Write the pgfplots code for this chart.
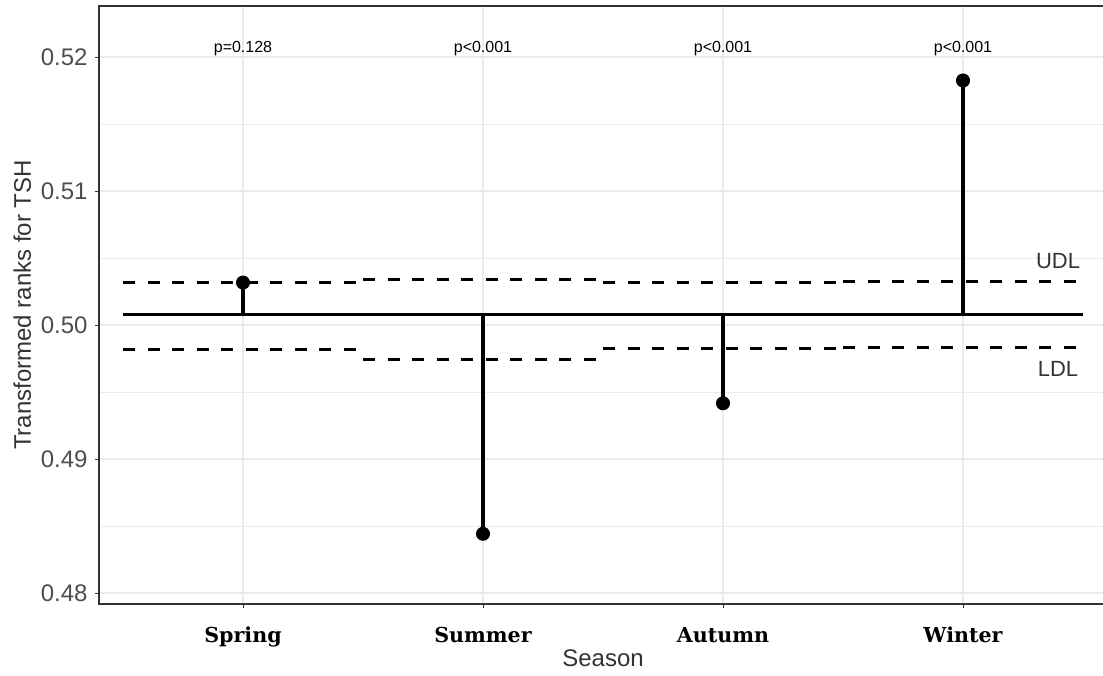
\documentclass[border=0pt]{standalone}
\usepackage{pgfplots}
\pgfplotsset{compat=1.18}
\usepackage{fontspec}
\setmainfont{Liberation Sans}
\newfontfamily\catfont{DejaVu Serif}
\definecolor{gridc}{HTML}{EBEBEB}
\definecolor{axc}{HTML}{333333}
\definecolor{tickc}{HTML}{4D4D4D}
\begin{document}
\begin{tikzpicture}
\useasboundingbox (-49.5pt,-35.5pt) rectangle (502pt,302pt);
\begin{axis}[
 at={(0,0)}, anchor=south west, scale only axis,
 width=504pt, height=299pt,
 xmin=-0.6, xmax=3.6, ymin=0.47918, ymax=0.52381,
 xtick={0,1,2,3}, xticklabels={Spring,Summer,Autumn,Winter},
 ytick={0.48,0.49,0.50,0.51,0.52},
 yticklabels={0.48,0.49,0.50,0.51,0.52},
 minor ytick={0.485,0.495,0.505,0.515},
 grid=both,
 major grid style={gridc, line width=0.6pt},
 minor grid style={gridc, line width=0.4pt},
 axis line style={axc, line width=0.6pt},
 tick align=outside, tick pos=left,
 major tick length=2.2pt, minor tick length=0pt,
 tick style={axc, line width=0.5pt},
 yticklabel style={font=\fontsize{12}{12}\selectfont, text=tickc},
 xticklabel style={font=\catfont\bfseries\fontsize{10.3}{10.3}\selectfont, text=black, text height=7.8pt, text depth=2.5pt, yshift=-5.5pt},
]
% center line
\addplot[black, line width=1.5pt] coordinates {(-0.5,0.50078) (3.5,0.50078)};
% UDL
\addplot[black, line width=1.4pt, dash pattern=on 6pt off 6.25pt] coordinates {(-0.5,0.50315) (0.5,0.50315)};
\addplot[black, line width=1.4pt, dash pattern=on 6pt off 6.25pt] coordinates {(0.5,0.50340) (1.5,0.50340)};
\addplot[black, line width=1.4pt, dash pattern=on 6pt off 6.25pt] coordinates {(1.5,0.50315) (2.5,0.50315)};
\addplot[black, line width=1.4pt, dash pattern=on 6pt off 6.25pt] coordinates {(2.5,0.50327) (3.5,0.50327)};
% LDL
\addplot[black, line width=1.4pt, dash pattern=on 6pt off 6.25pt] coordinates {(-0.5,0.49815) (0.5,0.49815)};
\addplot[black, line width=1.4pt, dash pattern=on 6pt off 6.25pt] coordinates {(0.5,0.49743) (1.5,0.49743)};
\addplot[black, line width=1.4pt, dash pattern=on 6pt off 6.25pt] coordinates {(1.5,0.49822) (2.5,0.49822)};
\addplot[black, line width=1.4pt, dash pattern=on 6pt off 6.25pt] coordinates {(2.5,0.49834) (3.5,0.49834)};
% stems
\addplot[black, line width=1.6pt] coordinates {(0,0.50078) (0,0.50317)};
\addplot[black, line width=1.6pt] coordinates {(1,0.50078) (1,0.48442)};
\addplot[black, line width=1.6pt] coordinates {(2,0.50078) (2,0.49416)};
\addplot[black, line width=1.6pt] coordinates {(3,0.50078) (3,0.51825)};
% points
\addplot[only marks, mark=*, mark size=3.3pt, black] coordinates {(0,0.50317) (1,0.48442) (2,0.49416) (3,0.51825)};
% p-values
\node[font=\fontsize{8}{8}\selectfont] at (axis cs:0,0.52063) {p=0.128};
\node[font=\fontsize{8}{8}\selectfont] at (axis cs:1,0.52063) {p<0.001};
\node[font=\fontsize{8}{8}\selectfont] at (axis cs:2,0.52063) {p<0.001};
\node[font=\fontsize{8}{8}\selectfont] at (axis cs:3,0.52063) {p<0.001};
\node[font=\fontsize{11}{11}\selectfont, text=axc] at (axis cs:3.396,0.50481) {UDL};
\node[font=\fontsize{11}{11}\selectfont, text=axc] at (axis cs:3.396,0.49675) {LDL};
\end{axis}
\node[rotate=90, anchor=base, font=\fontsize{12}{12}\selectfont, text=axc] at (-34pt,149.5pt) {Transformed ranks for TSH};
\node[anchor=base, font=\fontsize{12}{12}\selectfont, text=axc] at (252pt,-31pt) {Season};
\end{tikzpicture}
\end{document}
